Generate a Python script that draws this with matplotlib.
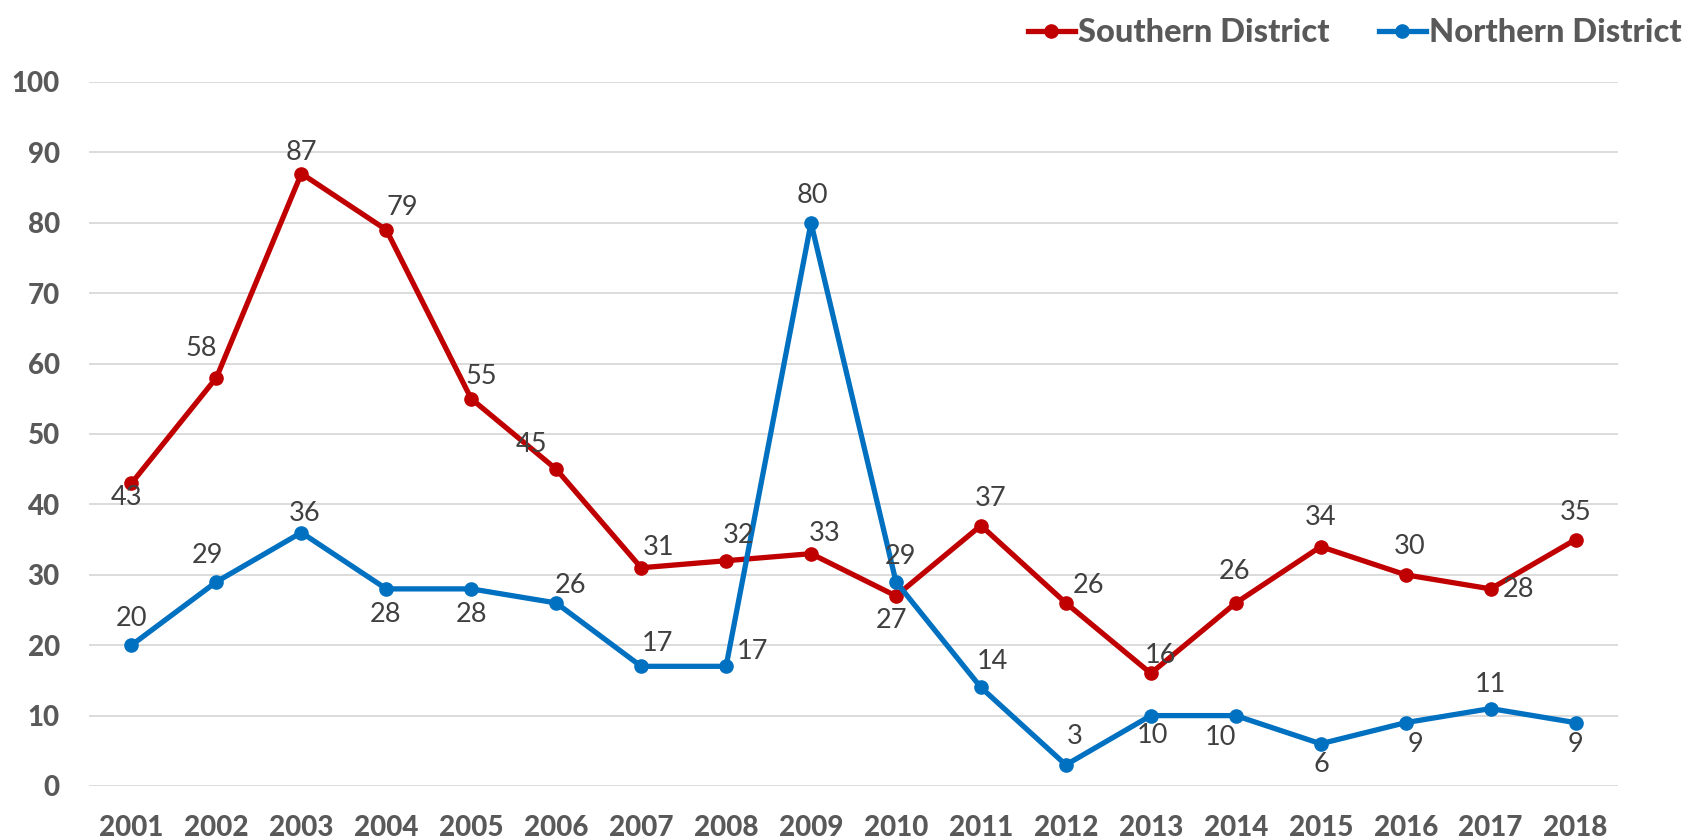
import matplotlib
matplotlib.use('Agg')
import matplotlib.pyplot as plt
from matplotlib.lines import Line2D

# data
years = [str(y) for y in range(2001, 2019)]
southern = [43, 58, 87, 79, 55, 45, 31, 32, 33, 27, 37, 26, 16, 26, 34, 30, 28, 35]
northern = [20, 29, 36, 28, 28, 26, 17, 17, 80, 29, 14, 3, 10, 10, 6, 9, 11, 9]

# label offsets (pixels) picked to match where the labels sit
south_off = [(-5, -14), (-15, 29), (0, 21), (16, 22), (10, 22), (-25, 25), (17, 20), (13, 25),
             (14, 20), (-4, -25), (10, 27), (23, 17), (10, 18), (-1, 31), (0, 29), (4, 28),
             (28, -1), (0, 27)]
north_off = [(0, 27), (-9, 26), (3, 19), (-1, -26), (0, -26), (14, 17), (16, 23), (26, 15),
             (1, 27), (5, 25), (12, 26), (9, 28), (2, -20), (-15, -22), (1, -21), (10, -22),
             (0, 24), (0, -22)]

red = '#C00000'
blue = '#0070C0'
grey = '#595959'
fam = ['Lato', 'DejaVu Sans']

plt.rcParams['font.family'] = fam

fig = plt.figure(figsize=(17, 8.4), dpi=100)
ax = fig.add_axes([89 / 1700, 1 - 786 / 840, (1618 - 89) / 1700, (786 - 82) / 840])

x = list(range(len(years)))
ax.plot(x, southern, color=red, lw=3.8, marker='o', ms=9.5, zorder=3, solid_capstyle='round')
ax.plot(x, northern, color=blue, lw=3.8, marker='o', ms=9.5, zorder=4, solid_capstyle='round')

for i, v in enumerate(southern):
    ax.annotate(str(v), (i, v), xytext=south_off[i], textcoords='offset pixels',
                ha='center', va='center', fontsize=19.5, color='#404040', zorder=5)
for i, v in enumerate(northern):
    ax.annotate(str(v), (i, v), xytext=north_off[i], textcoords='offset pixels',
                ha='center', va='center', fontsize=19.5, color='#404040', zorder=5)

ax.set_xlim(-0.5, len(years) - 0.5)
ax.set_ylim(0, 100)
ax.set_yticks(range(0, 101, 10))
ax.set_xticks(x)
ax.set_xticklabels(years)
ax.grid(axis='y', color='#D9D9D9', lw=1.3)
ax.set_axisbelow(True)
for s in ax.spines.values():
    s.set_visible(False)
ax.tick_params(axis='both', length=0, labelsize=20, labelcolor=grey)
ax.tick_params(axis='y', pad=21)
ax.tick_params(axis='x', pad=21)
for lab in ax.get_xticklabels() + ax.get_yticklabels():
    lab.set_fontweight('black')

handles = [Line2D([], [], color=red, lw=3.8, marker='o', ms=9.5),
           Line2D([], [], color=blue, lw=3.8, marker='o', ms=9.5)]
leg = fig.legend(handles, ['Southern District', 'Northern District'], loc='upper right',
                 bbox_to_anchor=(1.0, 1.0), ncol=2, frameon=False, handlelength=1.45,
                 handletextpad=0.1, columnspacing=1.5, borderaxespad=0.15,
                 prop={'family': fam, 'weight': 'black', 'size': 23.5})
for t in leg.get_texts():
    t.set_color(grey)

fig.savefig('out.png', dpi=100)
